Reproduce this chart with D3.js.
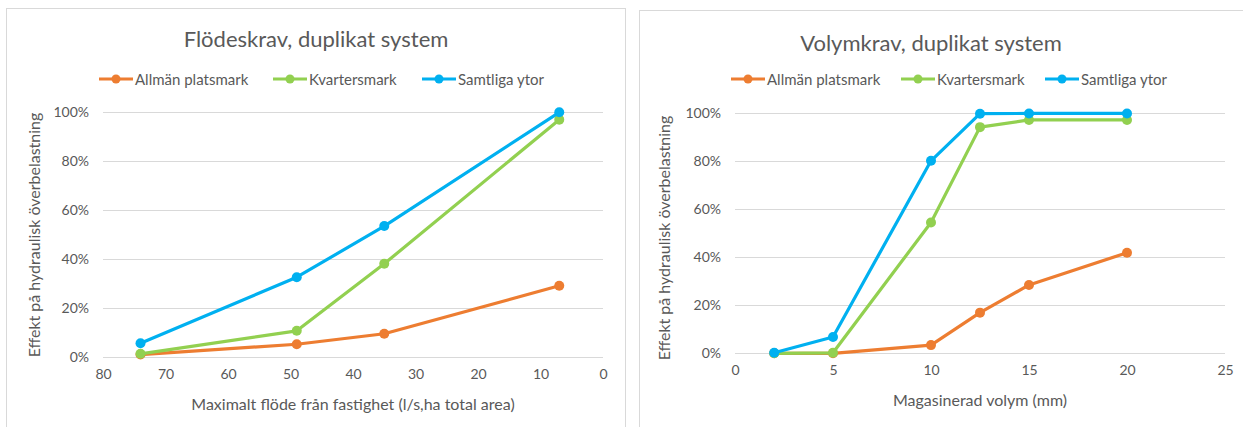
<!DOCTYPE html>
<html>
<head>
<meta charset="utf-8">
<script src="https://cdn.jsdelivr.net/npm/d3@7"></script>
<style>
  html, body { margin: 0; padding: 0; background: #fff; }
  svg { display: block; }
  text { font-family: Lato, "Open Sans", sans-serif; fill: #595959; }
</style>
</head>
<body>
<svg id="chart" width="1243" height="427"></svg>
<script>
// Series names shared by both panels
const seriesNames = ["Allmän platsmark", "Kvartersmark", "Samtliga ytor"];
const seriesColors = ["#ED7D31", "#92D050", "#00B0F0"];

// Left panel: maximum outflow from property (l/s,ha)
const flowX = [74, 49, 35, 7];
const flowAllman = [0.010, 0.052, 0.095, 0.291];
const flowKvarter = [0.013, 0.107, 0.381, 0.970];
const flowSamtliga = [0.056, 0.326, 0.535, 1.000];
const flowXTicks = [80, 70, 60, 50, 40, 30, 20, 10, 0];

// Right panel: stored volume (mm)
const volX = [2, 5, 10, 12.5, 15, 20];
const volAllman = [0.000, 0.000, 0.034, 0.169, 0.284, 0.418];
const volKvarter = [0.000, 0.002, 0.544, 0.940, 0.970, 0.970];
const volSamtliga = [0.002, 0.068, 0.800, 0.996, 0.997, 0.997];
const volXTicks = [0, 5, 10, 15, 20, 25];

const yTicks = [0, 0.2, 0.4, 0.6, 0.8, 1.0];

const svg = d3.select("#chart");
svg.append("rect").attr("width", 1243).attr("height", 427).attr("fill", "#fff");

function drawPanel(cfg) {
  const g = svg.append("g");

  // chart frame
  g.append("rect")
    .attr("x", cfg.frame[0] + 0.5).attr("y", cfg.frame[1] + 0.5)
    .attr("width", cfg.frame[2]).attr("height", cfg.frame[3])
    .attr("fill", "#fff").attr("stroke", "#d9d9d9").attr("stroke-width", 1);

  const x = d3.scaleLinear().domain(cfg.xDomain).range([cfg.plot.left, cfg.plot.right]);
  const y = d3.scaleLinear().domain([0, 1]).range([cfg.plot.bottom, cfg.plot.top]);

  // horizontal gridlines
  g.append("g").selectAll("line").data(yTicks).join("line")
    .attr("x1", cfg.plot.left).attr("x2", cfg.plot.right)
    .attr("y1", d => Math.round(y(d)) + 0.5).attr("y2", d => Math.round(y(d)) + 0.5)
    .attr("stroke", "#d9d9d9").attr("stroke-width", 1);

  // y axis labels
  const yAxis = d3.axisLeft(y).tickValues(yTicks).tickFormat(d3.format(".0%")).tickSize(0).tickPadding(14);
  const ya = g.append("g").attr("transform", `translate(${cfg.plot.left},0)`).call(yAxis);
  ya.select(".domain").remove();
  ya.selectAll("text").style("font-size", "14px").attr("fill", "#595959")
    .style("font-family", "Lato, sans-serif");

  // x axis labels
  const xAxis = d3.axisBottom(x).tickValues(cfg.xTicks).tickFormat(d3.format("d")).tickSize(0).tickPadding(cfg.xPad);
  const xa = g.append("g").attr("transform", `translate(0,${cfg.plot.bottom})`).call(xAxis);
  xa.select(".domain").remove();
  xa.selectAll("text").style("font-size", "14px").attr("fill", "#595959")
    .style("font-family", "Lato, sans-serif");

  // titles
  g.append("text").attr("x", cfg.titlePos[0]).attr("y", cfg.titlePos[1])
    .attr("text-anchor", "middle").attr("dominant-baseline", "central")
    .style("font-size", "22px").text(cfg.title);

  g.append("text").attr("x", (cfg.plot.left + cfg.plot.right) / 2).attr("y", cfg.xTitleY)
    .attr("text-anchor", "middle").attr("dominant-baseline", "central")
    .style("font-size", "16px").text(cfg.xTitle);

  g.append("text")
    .attr("transform", `translate(${cfg.yTitlePos[0]},${cfg.yTitlePos[1]}) rotate(-90)`)
    .attr("text-anchor", "middle").attr("dominant-baseline", "central")
    .style("font-size", "16px").text("Effekt på hydraulisk överbelastning");

  // series lines and markers
  const line = d3.line().x(d => x(d[0])).y(d => y(d[1]));
  cfg.series.forEach((vals, i) => {
    const pts = cfg.xVals.map((xv, j) => [xv, vals[j]]);
    g.append("path").datum(pts).attr("d", line)
      .attr("fill", "none").attr("stroke", seriesColors[i])
      .attr("stroke-width", 3.2).attr("stroke-linejoin", "round").attr("stroke-linecap", "round");
    g.append("g").selectAll("circle").data(pts).join("circle")
      .attr("cx", d => x(d[0])).attr("cy", d => y(d[1])).attr("r", 5)
      .attr("fill", seriesColors[i]);
  });

  // legend
  const lg = g.append("g");
  seriesNames.forEach((name, i) => {
    const lx = cfg.legendX[i], ly = cfg.legendY;
    lg.append("line").attr("x1", lx).attr("x2", lx + 34).attr("y1", ly).attr("y2", ly)
      .attr("stroke", seriesColors[i]).attr("stroke-width", 3.2);
    lg.append("circle").attr("cx", lx + 17).attr("cy", ly).attr("r", 4.5).attr("fill", seriesColors[i]);
    lg.append("text").attr("x", lx + 36).attr("y", ly).attr("dominant-baseline", "central")
      .style("font-size", "15px").text(name);
  });
}

drawPanel({
  frame: [6, 8, 619, 440],
  plot: { left: 103, right: 603, top: 112.3, bottom: 357 },
  xDomain: [80, 0],
  xTicks: flowXTicks,
  xVals: flowX,
  series: [flowAllman, flowKvarter, flowSamtliga],
  xPad: 12,
  title: "Flödeskrav, duplikat system",
  titlePos: [316, 38],
  xTitle: "Maximalt flöde från fastighet (l/s,ha total area)",
  xTitleY: 403,
  yTitlePos: [33, 235],
  legendX: [99, 273, 422],
  legendY: 79
});

drawPanel({
  frame: [639, 10, 620, 440],
  plot: { left: 735, right: 1225, top: 112.7, bottom: 353.3 },
  xDomain: [0, 25],
  xTicks: volXTicks,
  xVals: volX,
  series: [volAllman, volKvarter, volSamtliga],
  xPad: 12,
  title: "Volymkrav, duplikat system",
  titlePos: [931, 42],
  xTitle: "Magasinerad volym (mm)",
  xTitleY: 399,
  yTitlePos: [663, 238],
  legendX: [731, 901, 1045],
  legendY: 79
});
</script>
</body>
</html>
